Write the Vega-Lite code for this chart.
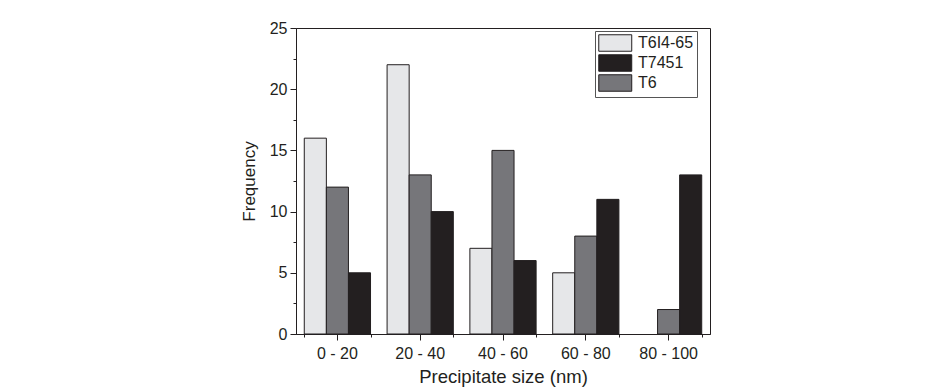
{
  "$schema": "https://vega.github.io/schema/vega-lite/v6.json",
  "width": 414,
  "height": 306,
  "autosize": {"type": "none"},
  "padding": {"left": 296, "top": 28, "right": 227, "bottom": 58},
  "background": "white",
  "config": {
    "font": "Liberation Sans",
    "view": {"stroke": "#231f20", "strokeWidth": 1},
    "axis": {"labelFont": "Liberation Sans", "titleFont": "Liberation Sans", "labelColor": "#231f20", "titleColor": "#231f20", "domainColor": "#231f20", "tickColor": "#231f20", "titleFontWeight": "normal", "grid": false}
  },
  "data": {
    "values": [
      {"size": "0 - 20", "series": "T6I4-65", "freq": 16},
      {"size": "0 - 20", "series": "T6", "freq": 12},
      {"size": "0 - 20", "series": "T7451", "freq": 5},
      {"size": "20 - 40", "series": "T6I4-65", "freq": 22},
      {"size": "20 - 40", "series": "T6", "freq": 13},
      {"size": "20 - 40", "series": "T7451", "freq": 10},
      {"size": "40 - 60", "series": "T6I4-65", "freq": 7},
      {"size": "40 - 60", "series": "T6", "freq": 15},
      {"size": "40 - 60", "series": "T7451", "freq": 6},
      {"size": "60 - 80", "series": "T6I4-65", "freq": 5},
      {"size": "60 - 80", "series": "T6", "freq": 8},
      {"size": "60 - 80", "series": "T7451", "freq": 11},
      {"size": "80 - 100", "series": "T6I4-65", "freq": 0},
      {"size": "80 - 100", "series": "T6", "freq": 2},
      {"size": "80 - 100", "series": "T7451", "freq": 13}
    ]
  },
  "layer": [
    {
      "mark": {"type": "bar", "strokeWidth": 1},
      "encoding": {
        "x": {
          "field": "size", "type": "nominal", "sort": null,
          "scale": {"paddingInner": 0.2, "paddingOuter": 0.1},
          "axis": {"orient": "bottom", "labelAngle": 0, "labelFontSize": 16, "labelPadding": 5, "tickSize": 6, "title": "Precipitate size (nm)", "titleFontSize": 18.5, "titlePadding": 6}
        },
        "xOffset": {"field": "series", "type": "nominal", "scale": {"domain": ["T6I4-65", "T6", "T7451"], "paddingInner": 0, "paddingOuter": 0}},
        "y": {
          "field": "freq", "type": "quantitative",
          "scale": {"domain": [0, 25], "nice": false},
          "axis": {"values": [0, 2.5, 5, 7.5, 10, 12.5, 15, 17.5, 20, 22.5, 25], "labelExpr": "datum.value % 5 === 0 ? datum.label : ''", "tickSize": {"condition": {"test": "datum.value % 5 === 0", "value": 6}, "value": 3}, "labelFontSize": 16, "labelPadding": 3, "title": "Frequency", "titleFontSize": 17, "titlePadding": 11}
        },
        "stroke": {"condition": {"test": "datum.freq === 0", "value": null}, "value": "#231f20"},
        "fill": {
          "field": "series", "type": "nominal",
          "scale": {"domain": ["T6I4-65", "T7451", "T6"], "range": ["#e6e7e9", "#231f20", "#76767a"]},
          "legend": {"title": null, "orient": "none", "legendX": 299, "legendY": 3, "padding": 3, "strokeColor": "#555555", "fillColor": "white", "symbolType": "M-1,-1H3V1H-1Z", "symbolSize": 272, "symbolStrokeColor": "#231f20", "symbolStrokeWidth": 1, "symbolOpacity": 1, "labelFontSize": 16, "labelFont": "Liberation Sans", "labelColor": "#231f20", "labelOffset": 22, "rowPadding": -3.5}
        }
      }
    },
    {
      "mark": {"type": "bar", "opacity": 0},
      "encoding": {
        "x": {
          "field": "size", "type": "nominal", "sort": null,
          "axis": {"orient": "bottom", "tickBand": "extent", "labels": false, "domain": false, "tickSize": 3, "title": null}
        }
      }
    }
  ],
  "resolve": {"axis": {"x": "independent"}}
}
